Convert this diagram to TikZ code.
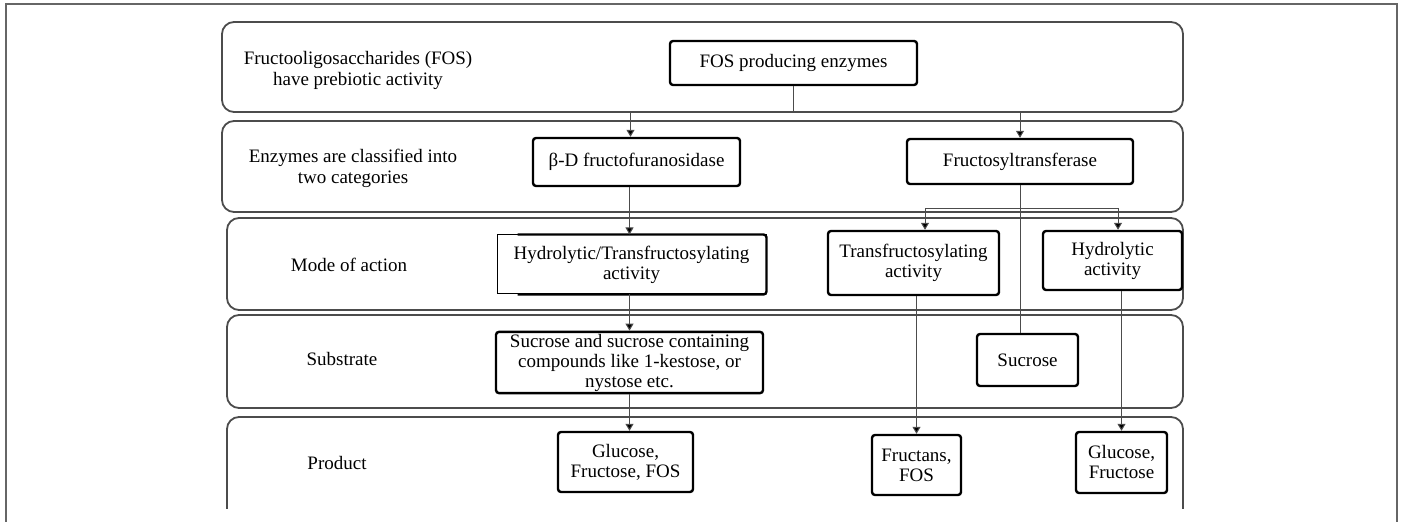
\documentclass[tikz,border=0pt]{standalone}
\usepackage{fontspec}
\setmainfont{Liberation Serif}
\usetikzlibrary{arrows.meta}

\tikzset{
  lane/.style={draw=black!70, line width=0.9pt, rounded corners=6pt},
  box/.style={draw, line width=1.2pt, rounded corners=1.5pt, align=center, inner sep=1pt, font=\fontsize{9.5}{10}\selectfont},
  lanelabel/.style={align=center, font=\fontsize{9.5}{10.5}\selectfont},
  link/.style={draw=black!70, line width=0.5pt},
  arr/.style={link, -{Triangle[length=3.5pt,width=4pt,fill=black]}}
}

\begin{document}
\begin{tikzpicture}[x=0.5pt,y=-0.5pt]
    \useasboundingbox (0,0) rectangle (1401,522);
    \clip (0,0) rectangle (1401,522);

    % outer frame
    \draw[black!60, line width=0.6pt] (6,4) rectangle (1397,560);

    % lanes
    \foreach \l/\t/\b in {222/22/112, 222/121/212, 227/218/310, 227/315/408}
        \draw[lane] (\l,\t) rectangle (1183,\b);
    \begin{scope}
        \clip (0,0) rectangle (1401,509);
        \draw[lane] (227,417) rectangle (1183,530);
    \end{scope}

    % lane labels
    \node[lanelabel] (fosinfo) at (358,70) {Fructooligosaccharides (FOS)\\have prebiotic activity};
    \node[lanelabel] (classes) at (353,168) {Enzymes are classified into\\two categories};
    \node[lanelabel] (mode) at (349,265) {Mode of action};
    \node[lanelabel] (substrate) at (342,359) {Substrate};
    \node[lanelabel] (product) at (337,463) {Product};

    % enzymes
    \node[box, minimum width=123.5pt, minimum height=22pt] (fos) at (793.5,63) {FOS producing enzymes};
    \node[box, minimum width=103.5pt, minimum height=24pt] (beta) at (636.5,162) {β-D fructofuranosidase};
    \node[box, minimum width=113pt, minimum height=22.5pt] (ftr) at (1020,161.5) {Fructosyltransferase};

    % mode of action
    \node[box, line width=0.5pt, rounded corners=0pt, minimum width=134.5pt, minimum height=29.5pt] (hta) at (631.5,264.5) {Hydrolytic/Transfructosylating\\activity};
    \draw[line width=1.2pt, rounded corners=1.5pt] ([xshift=10.5pt]hta.north west) -- (hta.north east) -- (hta.south east) -- ([xshift=10.5pt]hta.south west);
    \node[box, minimum width=85.5pt, minimum height=32pt] (tra) at (913.5,263) {Transfructosylating\\activity};
    \node[box, minimum width=69.5pt, minimum height=29.5pt] (hyd) at (1112.5,260.5) {Hydrolytic\\activity};

    % substrate
    \node[box, minimum width=133.5pt, minimum height=29.5pt] (sub) at (629.5,362.5) {Sucrose and sucrose containing\\compounds like 1-kestose, or\\nystose etc.};
    \node[box, minimum width=50.5pt, minimum height=26pt] (suc) at (1027.5,360) {Sucrose};

    % product
    \node[box, minimum width=67.5pt, minimum height=30pt] (glf) at (625.5,462) {Glucose,\\Fructose, FOS};
    \node[box, minimum width=44.5pt, minimum height=30pt] (fru) at (916.5,465) {Fructans,\\FOS};
    \node[box, minimum width=45.5pt, minimum height=30.5pt] (glu) at (1121.5,462.5) {Glucose,\\Fructose};

    % connectors
    \draw[arr] (fos.south) -- ++(0,25) -| ([xshift=-3pt]beta.north);
    \draw[arr] (fos.south) -- ++(0,25) -| (ftr.north);
    \draw[link] (ftr.south) -- (ftr.south |- suc.north);
    \draw[arr] (ftr.south) -- ++(0,23) -| ([xshift=5.75pt]tra.north);
    \draw[arr] (ftr.south) -- ++(0,23) -| ([xshift=2.75pt]hyd.north);
    \draw[arr] ([xshift=-3.5pt]beta.south) -- ([xshift=-3.5pt]beta.south |- hta.north);
    \draw[arr] (sub.north |- hta.south) -- (sub.north);
    \draw[arr] (sub.south) -- (sub.south |- glf.north);
    \draw[arr] (fru.north |- tra.south) -- (fru.north);
    \draw[arr] (glu.north |- hyd.south) -- (glu.north);

\end{tikzpicture}
\end{document}
